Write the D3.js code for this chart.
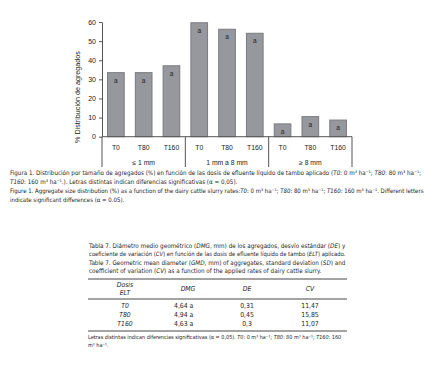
<!DOCTYPE html>
<html><head><meta charset="utf-8">
<script src="https://cdn.jsdelivr.net/npm/d3@7/dist/d3.min.js"></script>
<style>
html,body{margin:0;padding:0;background:#fff;}
svg text{font-family:"Liberation Sans Narrow","DejaVu Sans Condensed","Liberation Sans",sans-serif;fill:#1e1e1e;}
.ax text, text.ax{font-family:"Liberation Sans",Arial,sans-serif;fill:#222;}
</style></head>
<body>
<svg id="c" width="440" height="376"></svg>
<script>
const groups = ["≤ 1 mm", "1 mm a 8 mm", "≥ 8 mm"];
const treatments = ["T0", "T80", "T160"];
const valuesSmall = [33.5, 33.5, 37.1];
const valuesMid = [59.6, 56.2, 54.1];
const valuesLarge = [6.7, 10.5, 8.7];
const letters = ["a","a","a","a","a","a","a","a","a"];
const yTicks = [0, 10, 20, 30, 40, 50, 60];
const yLabel = "% Distribución de agregados";

const tableRows = ["T0", "T80", "T160"];
const dmg = ["4,64 a", "4,94 a", "4,63 a"];
const de = ["0,31", "0,45", "0,3"];
const cv = ["11,47", "15,85", "11,07"];

const svg = d3.select("#c");
const data = [];
[valuesSmall, valuesMid, valuesLarge].forEach((vals, gi) => {
  vals.forEach((v, ti) => data.push({g: groups[gi], t: treatments[ti], v, key: gi + "_" + ti}));
});

const x = d3.scaleBand().domain(data.map(d => d.key)).range([102, 352]).paddingInner(0.4).paddingOuter(0.2);
const y = d3.scaleLinear().domain([0, 60]).range([136.7, 22]);

// y axis
const yAxis = d3.axisLeft(y).tickValues(yTicks).tickSize(3).tickSizeOuter(0).tickPadding(3);
const ga = svg.append("g").attr("class", "ax").attr("transform", "translate(102,0)").call(yAxis);
ga.select(".domain").attr("stroke", "#555").attr("stroke-width", 1);
ga.selectAll(".tick line").attr("stroke", "#555");
ga.selectAll(".tick text").attr("font-size", 7).attr("fill", "#222");

svg.append("text").attr("class","ax")
  .attr("transform", "translate(80,97) rotate(-90)")
  .attr("text-anchor", "middle").attr("font-size", 7.2)
  .text(yLabel);

// bars
svg.append("g").selectAll("rect").data(data).join("rect")
  .attr("x", d => x(d.key)).attr("width", x.bandwidth())
  .attr("y", d => y(d.v)).attr("height", d => y(0) - y(d.v))
  .attr("fill", "#97989d").attr("stroke", "#7a7b80").attr("stroke-width", 1);

svg.append("g").selectAll("text").data(data).join("text")
  .attr("class","ax")
  .attr("x", d => x(d.key) + x.bandwidth() / 2).attr("y", (d) => y(d.v) + 10)
  .attr("text-anchor", "middle").attr("font-size", 6.5)
  .text((d, i) => letters[i]);

// baseline
svg.append("line").attr("x1", 102).attr("x2", 352).attr("y1", y(0)).attr("y2", y(0))
  .attr("stroke", "#555").attr("stroke-width", 1);

// category separators
const sepX = [0, 3, 6, 9].map(i => 102 + i * (250 / 9));
svg.append("g").selectAll("line").data(sepX).join("line")
  .attr("x1", d => d).attr("x2", d => d).attr("y1", y(0)).attr("y2", 167)
  .attr("stroke", "#555").attr("stroke-width", 1);

// category tick labels
svg.append("g").selectAll("text").data(data).join("text")
  .attr("class","ax")
  .attr("x", d => x(d.key) + x.bandwidth() / 2).attr("y", 149.5)
  .attr("text-anchor", "middle").attr("font-size", 6.8)
  .text(d => d.t);
svg.append("g").selectAll("text").data(groups).join("text")
  .attr("class","ax")
  .attr("x", (d, i) => (sepX[i] + sepX[i + 1]) / 2).attr("y", 164.5)
  .attr("text-anchor", "middle").attr("font-size", 6.8)
  .text(d => d);

// rich text line: fitted to a target width (len) or given a fixed size
function richLine(parts, xx, yy, len, size) {
  const base = size || 6.5;
  const t = svg.append("text").attr("x", xx).attr("y", yy).attr("font-size", base);
  parts.forEach(p => {
    const ts = t.append("tspan").text(p[0]);
    if (p[1]) ts.attr("font-style", "italic");
  });
  let fs = base;
  if (len) {
    const w = t.node().getComputedTextLength();
    if (w > 0) fs = Math.min(7.6, base * len / w);
    t.attr("font-size", fs);
  }
  return fs;
}

// figure caption
const f1 = richLine([["Figura 1. Distribución por tamaño de agregados (%) en función de las dosis de efluente líquido de tambo aplicado ("],["T0",1],[": 0 m³ ha⁻¹; "],["T80",1],[": 80 m³ ha⁻¹;"]], 10, 175, 412);
richLine([["T160",1],[": 160 m³ ha⁻¹.). Letras distintas indican diferencias significativas (α = 0,05)."]], 10, 184, null, f1);
const f3 = richLine([["Figure 1. Aggregate size distribution (%) as a function of the dairy cattle slurry rates:"],["T0",1],[": 0 m³ ha⁻¹; "],["T80",1],[": 80 m³ ha⁻¹; "],["T160",1],[": 160 m³ ha⁻¹. Different letters"]], 10, 193, 414);
richLine([["indicate significant differences (α = 0.05)."]], 10, 201.5, null, f3);

// table title
const t1 = richLine([["Tabla 7. Diámetro medio geométrico ("],["DMG",1],[", mm) de los agregados, desvío estándar ("],["DE",1],[") y"]], 89, 248, 257);
richLine([["coeficiente de variación ("],["CV",1],[") en función de las dosis de efluente líquido de tambo ("],["ELT",1],[") aplicado."]], 89, 256, 257);
const t3 = richLine([["Table 7. Geometric mean diameter ("],["GMD",1],[", mm) of aggregates, standard deviation ("],["SD",1],[") and"]], 89, 265, 257);
richLine([["coefficient of variation ("],["CV",1],[") as a function of the applied rates of dairy cattle slurry."]], 89, 273, null, t3);

// table rules
[279, 299, 331].forEach(yy => svg.append("line").attr("x1", 88).attr("x2", 347).attr("y1", yy).attr("y2", yy)
  .attr("stroke", "#333").attr("stroke-width", 0.9));

const colX = [125, 188, 247, 310];
function cell(txt, xx, yy, italic, anchor) {
  svg.append("text").attr("x", xx).attr("y", yy).attr("font-size", 6.8)
    .attr("text-anchor", anchor || "middle").attr("font-style", italic ? "italic" : null).text(txt);
}
cell("Dosis", colX[0], 286.5, true);
cell("ELT", colX[0], 294.5, true);
cell("DMG", colX[1], 290.5, true);
cell("DE", colX[2], 290.5, true);
cell("CV", colX[3], 290.5, true);
tableRows.forEach((r, i) => {
  const yy = 308 + i * 9;
  cell(r, colX[0], yy, true);
  cell(dmg[i], 174, yy, false, "start");
  cell(de[i], colX[2], yy, false);
  cell(cv[i], colX[3], yy, false);
});

// footnote
const n1 = richLine([["Letras distintas indican diferencias significativas (α = 0,05). "],["T0",1],[": 0 m³ ha⁻¹; "],["T80",1],[": 80 m³ ha⁻¹; "],["T160",1],[": 160"]], 88, 339, 254);
richLine([["m³ ha⁻¹."]], 88, 347, null, n1);
</script>
</body></html>
